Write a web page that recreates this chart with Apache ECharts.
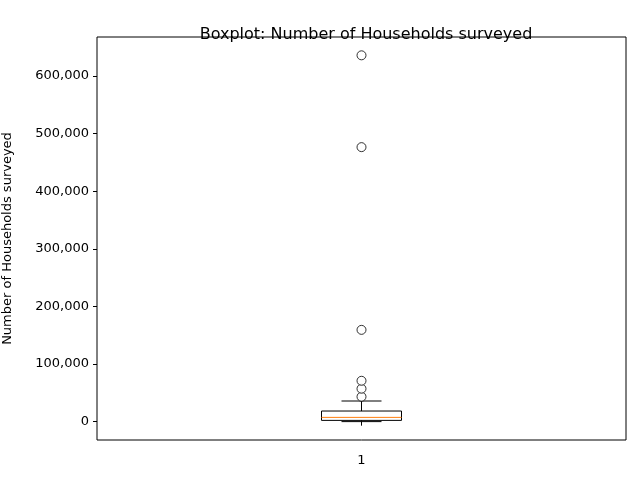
<!DOCTYPE html><html><head><script src="https://cdn.jsdelivr.net/npm/echarts@6/dist/echarts.min.js"></script></head><body style="margin:0"><div id="c" style="width:640px;height:480px"></div><script>
const categories=['1'];
const boxStats=[[100,2250,7450,18500,35900]];
const outliers=[43300,57200,71000,159400,476600,636000];
const yTicks=[0,100000,200000,300000,400000,500000,600000];
const chart=echarts.init(document.getElementById('c'));
chart.setOption({
animation:false,
title:{text:'Boxplot: Number of Households surveyed',left:361,top:14,textAlign:'center',textStyle:{fontFamily:'DejaVu Sans',fontSize:16,fontWeight:'normal',color:'#000'}},
grid:{left:97,right:14,top:37,bottom:40,show:true,borderColor:'#000',borderWidth:1,containLabel:false,outerBoundsMode:'none'},
xAxis:{type:'category',data:categories,boundaryGap:true,axisLine:{show:false},axisTick:{show:true,alignWithLabel:true,length:4,lineStyle:{color:'#000'}},axisLabel:{color:'#000',fontFamily:'DejaVu Sans',fontSize:13,margin:8}},
yAxis:{type:'value',min:-31800,max:667800,name:'Number of Households surveyed',nameLocation:'middle',nameGap:76,nameTextStyle:{fontFamily:'DejaVu Sans',fontSize:13,color:'#000'},splitLine:{show:false},axisLine:{show:false},axisTick:{show:true,length:4,lineStyle:{color:'#000'},customValues:yTicks},axisLabel:{color:'#000',fontFamily:'DejaVu Sans',fontSize:13,customValues:yTicks}},
series:[{type:'custom',data:boxStats.map((d,i)=>[i].concat(d)),renderItem:(p,api)=>{
 const i=api.value(0);const v=[1,2,3,4,5].map(k=>api.coord([i,api.value(k)]));
 const x=v[0][0];const hb=40,hc=20;const s={stroke:'#000',fill:'none',lineWidth:1};
 return {type:'group',children:[
 {type:'line',shape:{x1:x,y1:v[0][1],x2:x,y2:v[1][1]},style:s},
 {type:'line',shape:{x1:x,y1:v[3][1],x2:x,y2:v[4][1]},style:s},
 {type:'line',shape:{x1:x-hc,y1:v[0][1],x2:x+hc,y2:v[0][1]},style:s},
 {type:'line',shape:{x1:x-hc,y1:v[4][1],x2:x+hc,y2:v[4][1]},style:s},
 {type:'rect',shape:{x:x-hb,y:v[3][1],width:2*hb,height:v[1][1]-v[3][1]},style:s},
 {type:'line',shape:{x1:x-hb,y1:v[2][1],x2:x+hb,y2:v[2][1]},style:{stroke:'#ff7f0e',lineWidth:1}}
 ]};}},
{type:'scatter',data:outliers.map(v=>[0,v]),symbol:'circle',symbolSize:9,itemStyle:{color:'#fff',borderColor:'#000',borderWidth:1}}]
});
</script></body></html>
